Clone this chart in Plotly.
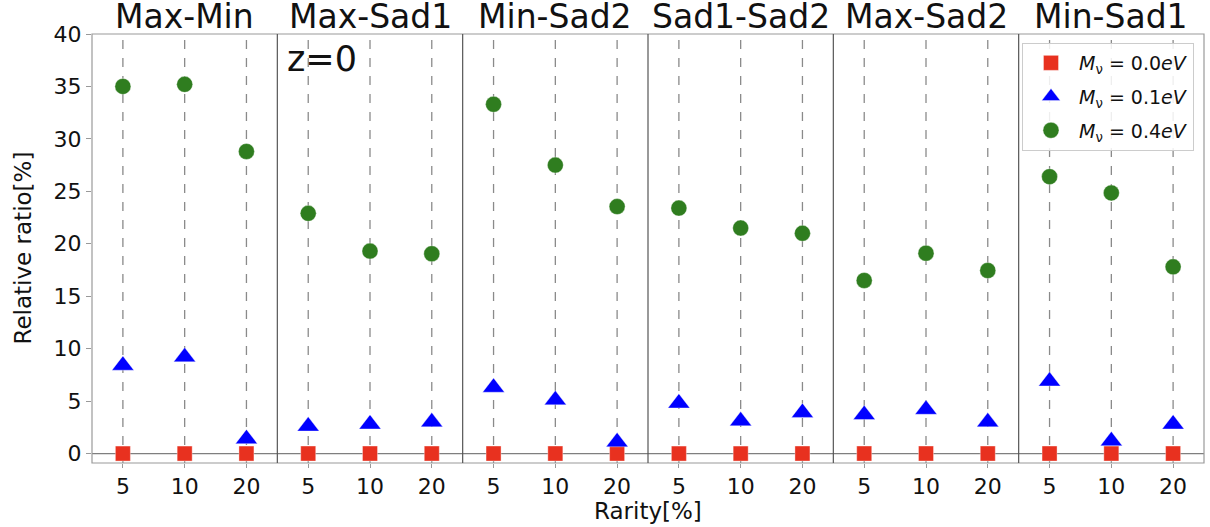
import plotly.graph_objects as go
from plotly.subplots import make_subplots

# Pair types (one panel each) and rarity thresholds on the x axis
pairs = ["Max-Min", "Max-Sad1", "Min-Sad2", "Sad1-Sad2", "Max-Sad2", "Min-Sad1"]
rarity = ["5", "10", "20"]

# Relative ratio [%] per pair, ordered as the rarity list
ratio_m00 = [[0, 0, 0], [0, 0, 0], [0, 0, 0], [0, 0, 0], [0, 0, 0], [0, 0, 0]]
ratio_m01 = [[8.4, 9.2, 1.4], [2.6, 2.8, 3.0], [6.3, 5.1, 1.1],
             [4.8, 3.1, 3.9], [3.7, 4.2, 3.0], [6.9, 1.2, 2.8]]
ratio_m04 = [[35.0, 35.2, 28.8], [22.9, 19.3, 19.05], [33.3, 27.5, 23.55],
             [23.4, 21.5, 21.0], [16.5, 19.1, 17.45], [26.4, 24.85, 17.8]]

y_ticks = [0, 5, 10, 15, 20, 25, 30, 35, 40]

series = [
    ("<i>M</i><sub>ν</sub> = 0.0<i>eV</i>", ratio_m00, "square", "#e8311f", 15),
    ("<i>M</i><sub>ν</sub> = 0.1<i>eV</i>", ratio_m01, "triangle-up", "#0000ff", 19),
    ("<i>M</i><sub>ν</sub> = 0.4<i>eV</i>", ratio_m04, "circle", "#2f7d1f", 16),
]

FONT = "DejaVu Sans"
n = len(pairs)
xpos = list(range(len(rarity)))

fig = make_subplots(rows=1, cols=n, shared_yaxes=True, horizontal_spacing=0)

for col in range(1, n + 1):
    # dashed guide at each rarity level
    for xv in xpos:
        fig.add_shape(type="line", xref=f"x{col}" if col > 1 else "x",
                      yref="paper", x0=xv, x1=xv, y0=0, y1=1,
                      line=dict(color="#8a8a8a", width=1.3, dash="dash"),
                      layer="below")
    for name, values, symbol, color, size in series:
        fig.add_trace(go.Scatter(
            x=xpos, y=values[col - 1], mode="markers", name=name,
            legendgroup=name, showlegend=(col == 1),
            marker=dict(symbol=symbol, color=color, size=size,
                        line=dict(color="rgba(255,255,255,0.6)", width=0.6)),
        ), row=1, col=col)
    fig.update_xaxes(row=1, col=col, range=[-0.5, 2.5], tickvals=xpos,
                     ticktext=rarity, ticks="outside", ticklen=4,
                     tickcolor="#999999", showgrid=False, zeroline=False,
                     showline=False,
                     tickfont=dict(family=FONT, size=22, color="#111111"))

fig.update_yaxes(range=[-0.9, 40], tickvals=y_ticks, showgrid=False,
                 zeroline=False, showline=False)
fig.update_yaxes(row=1, col=1, ticks="outside", ticklen=5, tickcolor="#999999",
                 tickfont=dict(family=FONT, size=22, color="#111111"))

# horizontal reference at zero across all panels
fig.add_shape(type="line", xref="paper", yref="y", x0=0, x1=1, y0=0, y1=0,
              line=dict(color="#7f7f7f", width=1.2), layer="below")

# outer frame and panel separators
fig.add_shape(type="rect", xref="paper", yref="paper", x0=0, x1=1, y0=0, y1=1,
              line=dict(color="#9a9a9a", width=1.2), layer="above")
for k in range(1, n):
    fig.add_shape(type="line", xref="paper", yref="paper", x0=k / n, x1=k / n,
                  y0=0, y1=1, line=dict(color="#555555", width=1.2),
                  layer="above")

# panel titles
for k, title in enumerate(pairs):
    fig.add_annotation(text=title, xref="paper", yref="paper",
                       x=(k + 0.5) / n, y=1, xanchor="center", yanchor="bottom",
                       yshift=-4, showarrow=False,
                       font=dict(family=FONT, size=33, color="#111111"))

fig.add_annotation(text="z=0", xref="paper", yref="paper", x=1 / n, y=1,
                   xanchor="left", yanchor="top", xshift=8, yshift=-3,
                   showarrow=False, font=dict(family=FONT, size=35, color="#111111"))

fig.add_annotation(text="Rarity[%]", xref="paper", yref="paper", x=0.5, y=0,
                   xanchor="center", yanchor="top", yshift=-33, showarrow=False,
                   font=dict(family=FONT, size=23, color="#111111"))
fig.add_annotation(text="Relative ratio[%]", xref="paper", yref="paper",
                   x=0, y=0.5, xanchor="center", yanchor="middle", xshift=-70,
                   textangle=-90, showarrow=False,
                   font=dict(family=FONT, size=23, color="#111111"))

fig.update_layout(
    width=1210, height=527,
    margin=dict(l=92, r=6, t=34, b=64),
    paper_bgcolor="white", plot_bgcolor="white",
    font=dict(family=FONT, color="#111111"),
    legend=dict(x=0.991, y=0.979, xanchor="right", yanchor="top",
                bgcolor="rgba(255,255,255,0.85)", bordercolor="#cccccc",
                borderwidth=1, font=dict(family=FONT, size=19),
                itemwidth=46, tracegroupgap=6),
)

fig.write_html("out.html")
